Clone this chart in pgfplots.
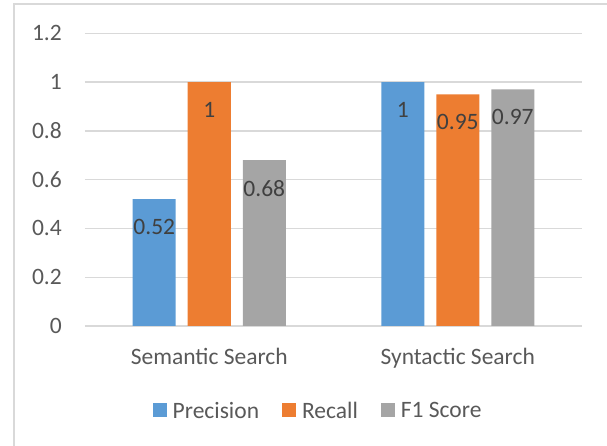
\documentclass[border=0pt]{standalone}
\usepackage{pgfplots}
\pgfplotsset{compat=1.18}
\usepackage{fontspec}
\setmainfont{Carlito}
\definecolor{cblue}{HTML}{5B9BD5}
\definecolor{corange}{HTML}{ED7D31}
\definecolor{cgray}{HTML}{A5A5A5}
\definecolor{grid}{HTML}{D9D9D9}
\definecolor{tick}{HTML}{595959}
\definecolor{lab}{HTML}{404040}
\begin{document}
\begin{tikzpicture}
\begin{axis}[
  at={(0,0)}, anchor=south west,
  scale only axis, width=497pt, height=292.7pt,
  xmin=-0.5, xmax=1.5, ymin=0, ymax=1.2,
  ybar=12pt, bar width=43pt,
  xtick={0,1}, xticklabels={Semantic Search, Syntactic Search},
  ytick={0,0.2,0.4,0.6,0.8,1,1.2},
  yticklabels={0,0.2,0.4,0.6,0.8,1,1.2},
  major tick length=0pt,
  axis line style={draw=none},
  ymajorgrids, grid style={draw=grid, line width=1.3pt},
  /pgf/number format/assume math mode=true,
  tick label style={font=\fontsize{23.5}{28}\selectfont, text=tick, inner sep=0pt},
  yticklabel style={anchor=east, xshift=-23pt},
  xticklabel style={anchor=north, yshift=-22pt},
  nodes near coords,
  every node near coord/.append style={anchor=north, inner sep=0pt, yshift=-20pt,
    font=\fontsize{23.5}{28}\selectfont, text=lab},
  legend columns=3,
  legend style={at={(0.467,-0.29)}, anchor=center, draw=none, fill=none,
    font=\fontsize{23.5}{28}\selectfont, text=tick,
    nodes={inner sep=0pt},
    /tikz/every even column/.append style={column sep=23pt},
    /tikz/every odd column/.append style={column sep=6pt}},
  legend image code/.code={\fill[#1] (0pt,-6pt) rectangle (14pt,8pt);},
]
\addplot[fill=cblue, draw=none] coordinates {(0,0.52) (1,1)};
\addplot[fill=corange, draw=none] coordinates {(0,1) (1,0.95)};
\addplot[fill=cgray, draw=none] coordinates {(0,0.68) (1,0.97)};
\legend{Precision, Recall, F1 Score}
\end{axis}
\path[use as bounding box] (-85pt,-120pt) rectangle (522pt,326pt);
\draw[grid, line width=1.5pt] (-71pt,-125pt) -- (-71pt,322pt) -- (530pt,322pt);
\end{tikzpicture}
\end{document}
